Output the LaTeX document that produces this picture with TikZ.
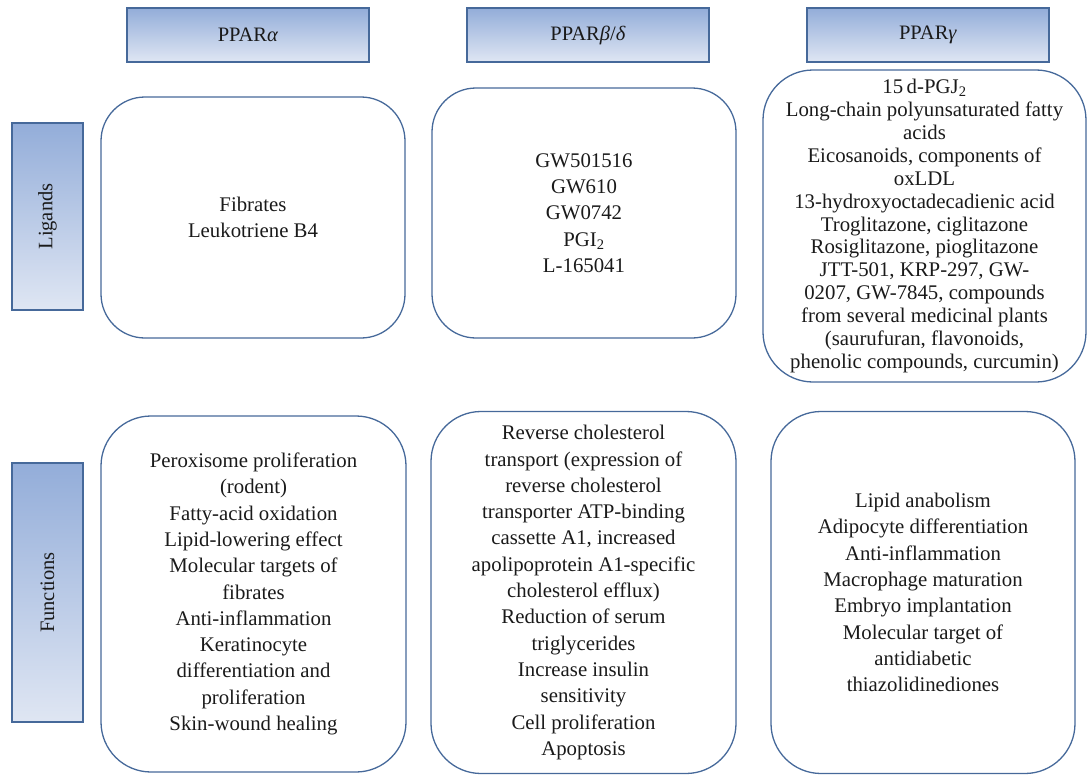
\documentclass[tikz,border=0pt]{standalone}
\usepackage{fontspec}
\setmainfont{Liberation Serif}
\definecolor{edgeblue}{HTML}{46699A}
\definecolor{gradtop}{HTML}{93ADD9}
\definecolor{gradbot}{HTML}{DFE6F3}
\definecolor{txt}{HTML}{1A1A1A}
\tikzset{
  hdr/.style={draw=edgeblue, line width=1.3pt, top color=gradtop, bottom color=gradbot,
    minimum width=242pt, minimum height=54pt, inner sep=0pt, text=txt,
    font=\fontsize{20.5}{25}\selectfont},
  side/.style={draw=edgeblue, line width=1.3pt, top color=gradtop, bottom color=gradbot,
    minimum width=71pt, inner sep=0pt},
  sidelbl/.style={rotate=90, text=txt, font=\fontsize{20.5}{25}\selectfont},
  rbox/.style={draw=edgeblue, line width=1.3pt, rounded corners=44pt, inner sep=0pt,
    align=center, text=txt, font=\fontsize{20.8}{26.3}\selectfont},
}
\begin{document}
\begin{tikzpicture}[x=1pt,y=-1pt]
\useasboundingbox (0,0) rectangle (1087,776);
% headers
\node[hdr] (ha) at (248,35) {PPAR\textit{α}};
\node[hdr] (hb) at (588,35) {PPAR\textit{β}/\textit{δ}};
\node[hdr] (hg) at (928,35) {PPAR\textit{γ}};
% side boxes
\node[side, minimum height=187pt] (sl) at (47.5,216.5) {};
\node[sidelbl] (slt) at (sl.center) {Ligands};
\node[side, minimum height=259pt] (sf) at (47.5,592.5) {};
\node[sidelbl] (sft) at (sf.center) {Functions};
% ligand boxes
\node[rbox, minimum width=304pt, minimum height=241pt] (la) at (253,217.5)
  {Fibrates\\Leukotriene B4};
\node[rbox, minimum width=304pt, minimum height=250pt] (lb) at (584,213)
  {GW501516\\GW610\\GW0742\\PGI\textsubscript{2}\\L-165041};
\node[rbox, minimum width=323pt, minimum height=312pt, rounded corners=50pt,
  font=\fontsize{20.8}{22.9}\selectfont] (lg) at (924.5,226)
  {15\,d-PGJ\textsubscript{2}\\Long-chain polyunsaturated fatty\\acids\\Eicosanoids, components of\\oxLDL\\13-hydroxyoctadecadienic acid\\Troglitazone, ciglitazone\\Rosiglitazone, pioglitazone\\JTT-501, KRP-297, GW-\\0207, GW-7845, compounds\\from several medicinal plants\\(saurufuran, flavonoids,\\phenolic compounds, curcumin)};
% function boxes
\node[rbox, minimum width=305pt, minimum height=356pt, rounded corners=50pt] (fa) at (253.5,594)
  {Peroxisome proliferation\\(rodent)\\Fatty-acid oxidation\\Lipid-lowering effect\\Molecular targets of\\fibrates\\Anti-inflammation\\Keratinocyte\\differentiation and\\proliferation\\Skin-wound healing};
\node[rbox, minimum width=305pt, minimum height=362pt, rounded corners=50pt] (fb) at (583.5,592.5)
  {Reverse cholesterol\\transport (expression of\\reverse cholesterol\\transporter ATP-binding\\cassette A1, increased\\apolipoprotein A1-specific\\cholesterol efflux)\\Reduction of serum\\triglycerides\\Increase insulin\\sensitivity\\Cell proliferation\\Apoptosis};
\node[rbox, minimum width=304pt, minimum height=362pt, rounded corners=50pt] (fg) at (923,592.5)
  {Lipid anabolism\\Adipocyte differentiation\\Anti-inflammation\\Macrophage maturation\\Embryo implantation\\Molecular target of\\antidiabetic\\thiazolidinediones};
\end{tikzpicture}
\end{document}
